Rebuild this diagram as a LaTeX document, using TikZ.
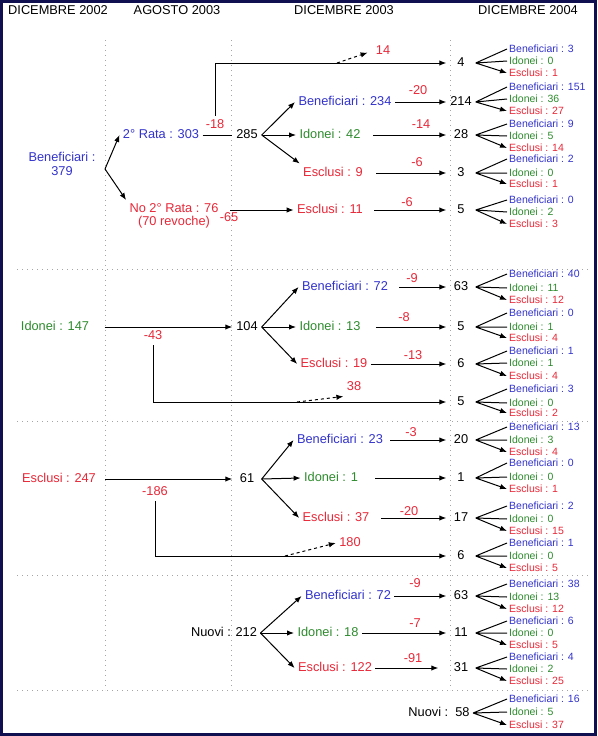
\documentclass[tikz,border=0pt]{standalone}
\usepackage{fontspec}
\setmainfont{Liberation Sans}
\usetikzlibrary{arrows.meta}
\definecolor{BenBlue}{RGB}{51,51,204}
\definecolor{IdoGreen}{RGB}{46,139,46}
\definecolor{EscRed}{RGB}{232,40,56}
\definecolor{FrameNavy}{RGB}{16,16,80}
\definecolor{GridGray}{RGB}{165,165,165}
\tikzset{%
	% Style of the text of all labels
	BaseName/.style={font=\fontsize{12.8}{13.5}\selectfont,black,inner sep=3.3pt},
	% Style of the main labels
	NodeName/.style={BaseName,text height=9.3pt,text depth=2.6pt},
	% Style of the labels of the last column
	SmallName/.style={font=\fontsize{10.5}{12}\selectfont,anchor=west,inner sep=2pt},
	% Style of the counts
	Count/.style={NodeName,minimum width=29pt,inner sep=0pt},
	% Style of the losses
	Loss/.style={NodeName,EscRed},
	% Style of the branch
	Connection/.style={line width=1pt,-{Latex[length=7pt,width=5.4pt]}},
	% Style of the moved branch
	Moved/.style={Connection,dashed},
	% Style of the grid
	Grid/.style={GridGray,line width=0.7pt,dash pattern=on 0.8pt off 4.2pt},
	% Colours of the categories
	Ben/.style={BenBlue},
	Ido/.style={IdoGreen},
	Esc/.style={EscRed},
}

\begin{document}
\begin{tikzpicture}[x=1pt,y=-1pt] % STYLES
\useasboundingbox (0,0) rectangle (597,736);
\fill[white] (0,0) rectangle (597,736);

%~~~~~~~~~~~~~~~~~~~~~~~~~~~~~~~~~~~~~~~~~~~~~~~~~~
% Set Grid
%~~~~~~~~~~~~~~~~~~~~~~~~~~~~~~~~~~~~~~~~~~~~~~~~~~
\draw[Grid] (105,40) -- (105,690);
\draw[Grid] (231,40) -- (231,690);
\draw[Grid] (450,40) -- (450,690);
\draw[Grid] (17,269) -- (588,269);
\draw[Grid] (17,421) -- (588,421);
\draw[Grid] (17,575) -- (588,575);
\draw[Grid] (17,690) -- (588,690);
\draw[FrameNavy,line width=3pt] (1.5,1.5) rectangle (595.5,734.5);

%~~~~~~~~~~~~~~~~~~~~~~~~~~~~~~~~~~~~~~~~~~~~~~~~~~
% Set Headers
%~~~~~~~~~~~~~~~~~~~~~~~~~~~~~~~~~~~~~~~~~~~~~~~~~~
\node[NodeName] (H1) at (58,11) {DICEMBRE 2002};
\node[NodeName] (H2) at (177,11) {AGOSTO 2003};
\node[NodeName] (H3) at (344,11) {DICEMBRE 2003};
\node[NodeName] (H4) at (528,11) {DICEMBRE 2004};

%~~~~~~~~~~~~~~~~~~~~~~~~~~~~~~~~~~~~~~~~~~~~~~~~~~
% Set Nodes
%~~~~~~~~~~~~~~~~~~~~~~~~~~~~~~~~~~~~~~~~~~~~~~~~~~
% Beneficiari
\node[BaseName,Ben,align=center] (B379) at (62,164) {Beneficiari :\\379};
\coordinate (S1) at (105,169);
\node[NodeName,Ben] (R303) at (161,135) {2° Rata : 303};
\node[BaseName,Esc,align=center] (NoRata) at (174,216) {No 2° Rata : 76\\(70 revoche)};
\coordinate (C65) at (230,210);
\node[Loss] (L65) at (229,218) {-65};
\node[Loss] (L18) at (215,125) {-18};
\node[Count] (N285) at (247,135) {285};
\node[NodeName,Ben] (B234) at (345,102) {Beneficiari : 234};
\node[NodeName,Ido] (I42) at (330,135) {Idonei : 42};
\node[NodeName,Esc] (E9) at (333,173) {Esclusi : 9};
\node[NodeName,Esc] (E11) at (330,210) {Esclusi : 11};
\coordinate (D14) at (337,63);
\node[Loss] (L14) at (383,51) {14};
\node[Loss] (L20a) at (418,91) {-20};
\node[Loss] (L14b) at (421,125) {-14};
\node[Loss] (L6a) at (417,163) {-6};
\node[Loss] (L6b) at (407,203) {-6};

% Idonei
\node[NodeName,Ido] (I147) at (55,327) {Idonei : 147};
\node[Loss] (L43) at (153,336) {-43};
\node[Count] (N104) at (247,327) {104};
\node[NodeName,Ben] (B72a) at (345,287) {Beneficiari : 72};
\node[NodeName,Ido] (I13) at (330,327) {Idonei : 13};
\node[NodeName,Esc] (E19) at (334,364) {Esclusi : 19};
\coordinate (D38) at (297,402);
\node[Loss] (L38) at (354,387) {38};
\node[Loss] (L9a) at (412,279) {-9};
\node[Loss] (L8) at (404,318) {-8};
\node[Loss] (L13) at (413,356) {-13};

% Esclusi
\node[NodeName,Esc] (E247) at (59,479) {Esclusi : 247};
\node[Loss] (L186) at (155,492) {-186};
\node[Count] (N61) at (247,479) {61};
\node[NodeName,Ben] (B23) at (340,440) {Beneficiari : 23};
\node[NodeName,Ido] (I1) at (331,478) {Idonei : 1};
\node[NodeName,Esc] (E37) at (336,518) {Esclusi : 37};
\coordinate (D180) at (285,556);
\node[Loss] (L180) at (350,543) {180};
\node[Loss] (L3) at (411,433) {-3};
\node[Loss] (L20b) at (409,512) {-20};

% Nuovi
\node[NodeName] (N212) at (224,633) {Nuovi : 212};
\node[NodeName,Ben] (B72b) at (348,596) {Beneficiari : 72};
\node[NodeName,Ido] (I18) at (328,633) {Idonei : 18};
\node[NodeName,Esc] (E122) at (335,668) {Esclusi : 122};
\node[Loss] (L9b) at (415,584) {-9};
\node[Loss] (L7) at (415,624) {-7};
\node[Loss] (L91) at (413,659) {-91};

%~~~~~~~~~~~~~~~~~~~~~~~~~~~~~~~~~~~~~~~~~~~~~~~~~~
% Set Counts of December 2004
%~~~~~~~~~~~~~~~~~~~~~~~~~~~~~~~~~~~~~~~~~~~~~~~~~~
\node[Count] (R1) at (461,63) {4};
\node[SmallName,Ben] (R1b) at (507,49) {Beneficiari : 3};
\node[SmallName,Ido] (R1i) at (507,61) {Idonei : 0};
\node[SmallName,Esc] (R1e) at (507,73) {Esclusi : 1};

\node[Count] (R2) at (461,102) {214};
\node[SmallName,Ben] (R2b) at (507,87) {Beneficiari : 151};
\node[SmallName,Ido] (R2i) at (507,99) {Idonei : 36};
\node[SmallName,Esc] (R2e) at (507,111) {Esclusi : 27};

\node[Count] (R3) at (461,135) {28};
\node[SmallName,Ben] (R3b) at (507,124) {Beneficiari : 9};
\node[SmallName,Ido] (R3i) at (507,136) {Idonei : 5};
\node[SmallName,Esc] (R3e) at (507,148) {Esclusi : 14};

\node[Count] (R4) at (461,173) {3};
\node[SmallName,Ben] (R4b) at (507,159) {Beneficiari : 2};
\node[SmallName,Ido] (R4i) at (507,173) {Idonei : 0};
\node[SmallName,Esc] (R4e) at (507,184) {Esclusi : 1};

\node[Count] (R5) at (461,210) {5};
\node[SmallName,Ben] (R5b) at (507,200) {Beneficiari : 0};
\node[SmallName,Ido] (R5i) at (507,212) {Idonei : 2};
\node[SmallName,Esc] (R5e) at (507,224) {Esclusi : 3};

\node[Count] (R6) at (461,287) {63};
\node[SmallName,Ben] (R6b) at (507,274) {Beneficiari : 40};
\node[SmallName,Ido] (R6i) at (507,288) {Idonei : 11};
\node[SmallName,Esc] (R6e) at (507,300) {Esclusi : 12};

\node[Count] (R7) at (461,327) {5};
\node[SmallName,Ben] (R7b) at (507,313) {Beneficiari : 0};
\node[SmallName,Ido] (R7i) at (507,327) {Idonei : 1};
\node[SmallName,Esc] (R7e) at (507,338) {Esclusi : 4};

\node[Count] (R8) at (461,364) {6};
\node[SmallName,Ben] (R8b) at (507,351) {Beneficiari : 1};
\node[SmallName,Ido] (R8i) at (507,363) {Idonei : 1};
\node[SmallName,Esc] (R8e) at (507,376) {Esclusi : 4};

\node[Count] (R9) at (461,402) {5};
\node[SmallName,Ben] (R9b) at (507,389) {Beneficiari : 3};
\node[SmallName,Ido] (R9i) at (507,403) {Idonei : 0};
\node[SmallName,Esc] (R9e) at (507,413) {Esclusi : 2};

\node[Count] (R10) at (461,440) {20};
\node[SmallName,Ben] (R10b) at (507,427) {Beneficiari : 13};
\node[SmallName,Ido] (R10i) at (507,440) {Idonei : 3};
\node[SmallName,Esc] (R10e) at (507,452) {Esclusi : 4};

\node[Count] (R11) at (461,478) {1};
\node[SmallName,Ben] (R11b) at (507,463) {Beneficiari : 0};
\node[SmallName,Ido] (R11i) at (507,477) {Idonei : 0};
\node[SmallName,Esc] (R11e) at (507,489) {Esclusi : 1};

\node[Count] (R12) at (461,518) {17};
\node[SmallName,Ben] (R12b) at (507,506) {Beneficiari : 2};
\node[SmallName,Ido] (R12i) at (507,519) {Idonei : 0};
\node[SmallName,Esc] (R12e) at (507,531) {Esclusi : 15};

\node[Count] (R13) at (461,556) {6};
\node[SmallName,Ben] (R13b) at (507,543) {Beneficiari : 1};
\node[SmallName,Ido] (R13i) at (507,556) {Idonei : 0};
\node[SmallName,Esc] (R13e) at (507,568) {Esclusi : 5};

\node[Count] (R14) at (461,596) {63};
\node[SmallName,Ben] (R14b) at (507,584) {Beneficiari : 38};
\node[SmallName,Ido] (R14i) at (507,597) {Idonei : 13};
\node[SmallName,Esc] (R14e) at (507,609) {Esclusi : 12};

\node[Count] (R15) at (461,633) {11};
\node[SmallName,Ben] (R15b) at (507,621) {Beneficiari : 6};
\node[SmallName,Ido] (R15i) at (507,633) {Idonei : 0};
\node[SmallName,Esc] (R15e) at (507,645) {Esclusi : 5};

\node[Count] (R16) at (461,668) {31};
\node[SmallName,Ben] (R16b) at (507,657) {Beneficiari : 4};
\node[SmallName,Ido] (R16i) at (507,669) {Idonei : 2};
\node[SmallName,Esc] (R16e) at (507,681) {Esclusi : 25};

\node[NodeName] (R17) at (439,713) {Nuovi :\ \ 58};
\node[SmallName,Ben] (R17b) at (507,699) {Beneficiari : 16};
\node[SmallName,Ido] (R17i) at (507,712) {Idonei : 5};
\node[SmallName,Esc] (R17e) at (507,725) {Esclusi : 37};

%~~~~~~~~~~~~~~~~~~~~~~~~~~~~~~~~~~~~~~~~~~~~~~~~~~
% Set Branches
%~~~~~~~~~~~~~~~~~~~~~~~~~~~~~~~~~~~~~~~~~~~~~~~~~~
%Branches of Beneficiari
\draw[Connection] (S1) -- (R303.west);
\draw[Connection] (S1) -- (NoRata.north west);
\draw[line width=1pt] (R303.east) -- (N285.west);
\draw[Connection] (L18.north) |- (R1.west);
\draw[Moved,shorten >=5pt] (D14) -- (L14.west);
\draw[Connection] (C65) -- (E11.west);
\draw[Connection] (N285.east) -- (B234.west);
\draw[Connection] (N285.east) -- (I42.west);
\draw[Connection] (N285.east) -- (E9.north west);
\draw[Connection] (B234.east) -- (R2.west);
\draw[Connection,shorten <=9pt] (I42.east) -- (R3.west);
\draw[Connection,shorten <=10pt] (E9.east) -- (R4.west);
\draw[Connection,shorten <=8pt] (E11.east) -- (R5.west);

%Branches of Idonei
\draw[Connection,shorten <=12pt] (I147.east) -- (N104.west);
\draw[Connection] (L43.south) |- (R9.west);
\draw[Moved] (D38) -- (L38.south west);
\draw[Connection] (N104.east) -- (B72a.west);
\draw[Connection] (N104.east) -- (I13.west);
\draw[Connection] (N104.east) -- (E19.west);
\draw[Connection,shorten <=8pt] (B72a.east) -- (R6.west);
\draw[Connection,shorten <=12pt] (I13.east) -- (R7.west);
\draw[Connection] (E19.east) -- (R8.west);

%Branches of Esclusi
\draw[Connection,shorten <=6pt] (E247.east) -- (N61.west);
\draw[Connection] (L186.south) |- (R13.west);
\draw[Moved] (D180) -- (L180.west);
\draw[Connection] (N61.east) -- (B23.west);
\draw[Connection] (N61.east) -- (I1.west);
\draw[Connection] (N61.east) -- (E37.west);
\draw[Connection,shorten <=4pt] (B23.east) -- (R10.west);
\draw[Connection,shorten <=14pt] (I1.east) -- (R11.west);
\draw[Connection,shorten <=8pt] (E37.east) -- (R12.west);

%Branches of Nuovi
\draw[Connection] (N212.east) -- (B72b.west);
\draw[Connection] (N212.east) -- (I18.west);
\draw[Connection] (N212.east) -- (E122.west);
\draw[Connection] (B72b.east) -- (R14.west);
\draw[Connection] (I18.east) -- (R15.west);
\draw[Connection,shorten >=8pt] (E122.east) -- (R16.west);

%Branches of December 2004
\draw[Connection] (R1.east) -- (R1b.west) (R1.east) -- (R1i.west) (R1.east) -- (R1e.west);
\draw[Connection] (R2.east) -- (R2b.west) (R2.east) -- (R2i.west) (R2.east) -- (R2e.west);
\draw[Connection] (R3.east) -- (R3b.west) (R3.east) -- (R3i.west) (R3.east) -- (R3e.west);
\draw[Connection] (R4.east) -- (R4b.west) (R4.east) -- (R4i.west) (R4.east) -- (R4e.west);
\draw[Connection] (R5.east) -- (R5b.west) (R5.east) -- (R5i.west) (R5.east) -- (R5e.west);
\draw[Connection] (R6.east) -- (R6b.west) (R6.east) -- (R6i.west) (R6.east) -- (R6e.west);
\draw[Connection] (R7.east) -- (R7b.west) (R7.east) -- (R7i.west) (R7.east) -- (R7e.west);
\draw[Connection] (R8.east) -- (R8b.west) (R8.east) -- (R8i.west) (R8.east) -- (R8e.west);
\draw[Connection] (R9.east) -- (R9b.west) (R9.east) -- (R9i.west) (R9.east) -- (R9e.west);
\draw[Connection] (R10.east) -- (R10b.west) (R10.east) -- (R10i.west) (R10.east) -- (R10e.west);
\draw[Connection] (R11.east) -- (R11b.west) (R11.east) -- (R11i.west) (R11.east) -- (R11e.west);
\draw[Connection] (R12.east) -- (R12b.west) (R12.east) -- (R12i.west) (R12.east) -- (R12e.west);
\draw[Connection] (R13.east) -- (R13b.west) (R13.east) -- (R13i.west) (R13.east) -- (R13e.west);
\draw[Connection] (R14.east) -- (R14b.west) (R14.east) -- (R14i.west) (R14.east) -- (R14e.west);
\draw[Connection] (R15.east) -- (R15b.west) (R15.east) -- (R15i.west) (R15.east) -- (R15e.west);
\draw[Connection] (R16.east) -- (R16b.west) (R16.east) -- (R16i.west) (R16.east) -- (R16e.west);
\draw[Connection] (R17.east) -- (R17b.west) (R17.east) -- (R17i.west) (R17.east) -- (R17e.west);

\end{tikzpicture}
\end{document}
